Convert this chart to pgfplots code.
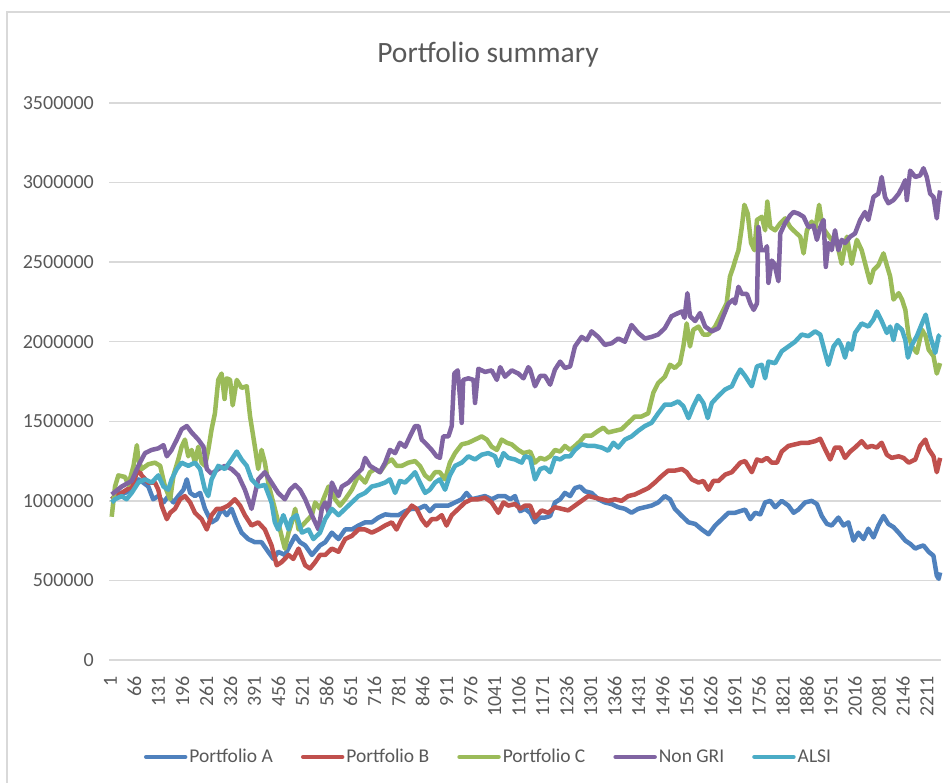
\documentclass[border=0pt]{standalone}
\usepackage{fontspec}
\setmainfont{Carlito}
\usepackage{pgfplots}
\usepackage{pgfplotstable}
\pgfplotsset{compat=1.18}
\definecolor{cA}{HTML}{4F81BD}
\definecolor{cB}{HTML}{C0504D}
\definecolor{cC}{HTML}{9BBB59}
\definecolor{cD}{HTML}{8064A2}
\definecolor{cE}{HTML}{4BACC6}
\definecolor{txt}{HTML}{595959}
\definecolor{gridc}{HTML}{D9D9D9}

\pgfplotstableread{
x y
1 1010000
19 1050000
37 1050000
55 1070000
73 1135000
86 1115000
100 1090000
113 1010000
127 1030000
141 990000
154 1030000
168 990000
181 1030000
195 1070000
204 1135000
213 1050000
226 1030000
240 1050000
253 950000
271 865000
285 885000
298 950000
312 910000
325 950000
339 865000
352 800000
370 760000
388 740000
406 740000
424 680000
438 635000
451 680000
469 660000
483 720000
497 780000
510 740000
524 720000
542 660000
564 720000
578 740000
596 800000
614 760000
632 820000
650 820000
668 845000
686 865000
704 865000
722 895000
740 915000
758 910000
776 910000
794 935000
812 950000
830 950000
848 970000
861 935000
875 970000
893 970000
911 970000
929 990000
947 1010000
960 1050000
974 1010000
992 1020000
1010 1030000
1028 1010000
1046 1030000
1064 1030000
1078 1010000
1091 1030000
1105 935000
1118 950000
1132 925000
1145 865000
1159 895000
1172 895000
1186 905000
1199 990000
1213 1010000
1226 1050000
1240 1030000
1253 1080000
1267 1090000
1280 1060000
1298 1050000
1316 1010000
1334 990000
1352 980000
1370 960000
1388 950000
1406 925000
1424 950000
1442 960000
1460 970000
1478 990000
1496 1030000
1510 1010000
1523 950000
1542 905000
1560 865000
1578 855000
1596 820000
1614 790000
1632 845000
1650 885000
1668 925000
1686 925000
1699 935000
1713 945000
1727 885000
1740 925000
1754 915000
1767 990000
1781 1000000
1794 960000
1812 1000000
1830 970000
1844 925000
1857 945000
1875 990000
1893 1000000
1907 980000
1920 905000
1934 855000
1947 845000
1965 895000
1979 845000
1992 865000
2006 750000
2019 800000
2033 760000
2046 825000
2060 770000
2073 845000
2087 905000
2100 855000
2114 835000
2128 800000
2146 750000
2159 730000
2173 700000
2182 710000
2195 720000
2209 680000
2222 655000
2231 530000
2236 510000
2240 550000
}\tA

\pgfplotstableread{
x y
1 1010000
28 1050000
55 1090000
73 1200000
82 1160000
100 1115000
118 1115000
127 1070000
136 970000
150 885000
159 925000
172 950000
186 1010000
199 1030000
213 990000
226 925000
244 885000
258 820000
271 910000
285 950000
298 950000
316 970000
334 1010000
348 970000
361 910000
379 845000
397 865000
415 820000
433 720000
447 595000
460 615000
479 660000
492 635000
506 700000
524 595000
537 575000
551 615000
564 660000
578 660000
596 700000
614 680000
632 760000
650 780000
668 820000
686 820000
704 800000
722 820000
740 845000
758 865000
771 820000
785 885000
798 925000
812 970000
825 950000
839 885000
852 845000
866 885000
879 885000
893 910000
906 845000
920 910000
938 950000
956 990000
974 1010000
992 1010000
1010 1020000
1028 990000
1046 925000
1060 990000
1073 970000
1091 980000
1105 950000
1118 970000
1132 970000
1145 895000
1163 940000
1181 925000
1199 960000
1217 950000
1235 940000
1253 970000
1271 1000000
1289 1030000
1307 1020000
1325 1010000
1343 1000000
1361 1010000
1379 1000000
1397 1030000
1415 1040000
1433 1060000
1451 1080000
1469 1115000
1487 1155000
1505 1190000
1523 1190000
1542 1200000
1555 1180000
1569 1135000
1587 1115000
1600 1125000
1614 1070000
1627 1125000
1641 1125000
1659 1165000
1677 1180000
1700 1240000
1713 1250000
1731 1180000
1745 1260000
1758 1250000
1772 1270000
1785 1240000
1799 1240000
1812 1310000
1830 1345000
1848 1355000
1866 1365000
1884 1365000
1902 1375000
1916 1390000
1929 1325000
1943 1260000
1956 1335000
1970 1335000
1983 1270000
1997 1310000
2010 1335000
2028 1375000
2042 1335000
2055 1345000
2069 1335000
2082 1365000
2096 1290000
2109 1270000
2128 1280000
2141 1270000
2155 1240000
2173 1260000
2186 1345000
2200 1385000
2209 1325000
2222 1280000
2231 1180000
2240 1270000
}\tB

\pgfplotstableread{
x y
1 900000
10 1090000
19 1160000
37 1150000
46 1100000
60 1220000
69 1350000
73 1260000
82 1200000
100 1230000
118 1240000
132 1220000
145 1090000
159 1010000
168 1160000
181 1260000
190 1340000
199 1385000
208 1280000
217 1320000
226 1240000
235 1340000
244 1240000
253 1220000
262 1320000
271 1450000
280 1550000
289 1760000
298 1800000
306 1640000
312 1770000
321 1760000
328 1600000
339 1760000
352 1710000
366 1720000
375 1530000
388 1340000
397 1200000
406 1320000
415 1240000
424 1115000
433 1030000
442 950000
451 865000
460 780000
469 700000
479 800000
488 865000
497 950000
506 820000
524 865000
542 910000
551 990000
564 950000
573 1010000
587 1090000
605 1010000
618 970000
632 1010000
650 1070000
668 1160000
686 1115000
699 1180000
713 1200000
726 1180000
744 1240000
758 1260000
771 1220000
785 1220000
803 1240000
821 1250000
834 1220000
848 1160000
861 1135000
875 1180000
888 1180000
902 1135000
915 1240000
929 1300000
947 1355000
965 1365000
983 1385000
1001 1405000
1015 1385000
1028 1340000
1042 1320000
1055 1385000
1069 1365000
1082 1355000
1100 1320000
1114 1300000
1132 1310000
1145 1240000
1159 1270000
1172 1260000
1186 1280000
1199 1320000
1213 1310000
1226 1345000
1240 1320000
1253 1345000
1267 1375000
1280 1410000
1298 1410000
1316 1440000
1330 1460000
1343 1430000
1361 1440000
1379 1450000
1397 1490000
1415 1530000
1433 1530000
1451 1550000
1465 1680000
1478 1740000
1496 1780000
1510 1855000
1523 1835000
1537 1865000
1546 1970000
1555 2115000
1564 1970000
1573 2075000
1587 2095000
1600 2045000
1614 2045000
1632 2095000
1650 2180000
1663 2240000
1672 2410000
1681 2470000
1686 2510000
1695 2575000
1704 2720000
1711 2860000
1720 2805000
1729 2620000
1738 2575000
1745 2765000
1758 2785000
1767 2700000
1773 2880000
1781 2720000
1794 2700000
1808 2745000
1821 2775000
1835 2720000
1848 2690000
1862 2660000
1871 2555000
1880 2700000
1893 2755000
1902 2700000
1913 2860000
1922 2720000
1934 2680000
1947 2640000
1961 2620000
1974 2490000
1988 2660000
2001 2490000
2015 2640000
2028 2575000
2042 2450000
2051 2370000
2060 2450000
2073 2480000
2087 2555000
2096 2480000
2105 2410000
2114 2265000
2128 2305000
2137 2265000
2146 2200000
2155 2035000
2164 1970000
2177 1930000
2191 2075000
2201 2035000
2209 1950000
2222 1910000
2231 1800000
2240 1865000
}\tC

\pgfplotstableread{
x y
1 1040000
28 1090000
55 1125000
73 1220000
91 1300000
109 1320000
127 1330000
141 1350000
150 1280000
163 1320000
177 1385000
190 1450000
204 1470000
217 1430000
235 1385000
249 1340000
258 1200000
271 1170000
289 1200000
307 1220000
325 1200000
343 1160000
361 1070000
379 950000
397 1135000
415 1180000
433 1115000
451 1050000
469 1010000
483 1070000
497 1100000
510 1070000
524 1010000
542 910000
560 820000
569 950000
578 990000
587 930000
596 1115000
605 1070000
614 1030000
623 1090000
641 1115000
659 1160000
677 1200000
686 1270000
699 1220000
713 1200000
726 1180000
740 1240000
753 1320000
767 1300000
780 1365000
794 1340000
807 1405000
821 1470000
830 1470000
839 1385000
852 1355000
866 1320000
879 1280000
888 1270000
897 1405000
911 1405000
920 1470000
927 1800000
936 1820000
942 1660000
947 1490000
951 1760000
965 1770000
979 1760000
983 1615000
992 1830000
1010 1810000
1028 1820000
1042 1760000
1051 1840000
1064 1780000
1082 1820000
1100 1800000
1114 1770000
1127 1840000
1132 1825000
1145 1720000
1159 1785000
1172 1785000
1186 1730000
1199 1825000
1213 1875000
1226 1835000
1240 1845000
1253 1970000
1271 2030000
1285 2010000
1298 2065000
1316 2030000
1334 1980000
1352 1990000
1370 2020000
1388 2000000
1406 2105000
1424 2055000
1442 2020000
1460 2030000
1478 2045000
1496 2085000
1514 2160000
1532 2180000
1542 2190000
1549 2150000
1557 2305000
1564 2160000
1578 2130000
1591 2180000
1605 2095000
1623 2065000
1641 2085000
1654 2160000
1668 2240000
1681 2265000
1686 2240000
1695 2345000
1704 2300000
1718 2300000
1727 2240000
1736 2200000
1745 2240000
1749 2720000
1756 2575000
1767 2575000
1772 2600000
1776 2370000
1785 2510000
1792 2490000
1803 2380000
1808 2680000
1821 2745000
1835 2795000
1844 2815000
1857 2805000
1871 2785000
1884 2720000
1898 2730000
1907 2640000
1916 2720000
1925 2765000
1931 2470000
1938 2620000
1947 2575000
1956 2700000
1965 2575000
1974 2640000
1983 2620000
1997 2660000
2010 2680000
2024 2765000
2037 2815000
2046 2765000
2060 2910000
2073 2930000
2082 3035000
2091 2910000
2100 2870000
2114 2890000
2128 2930000
2137 2970000
2146 3015000
2150 2890000
2159 3075000
2173 3035000
2186 3045000
2195 3090000
2204 3035000
2213 2930000
2222 2910000
2231 2775000
2236 2890000
2240 2950000
}\tD

\pgfplotstableread{
x y
1 990000
10 1010000
28 1030000
41 1010000
55 1050000
73 1115000
91 1135000
109 1115000
127 1160000
141 1090000
154 1070000
163 1135000
177 1200000
190 1240000
208 1220000
226 1240000
240 1200000
253 1070000
262 1030000
271 1135000
289 1220000
307 1200000
325 1260000
339 1310000
352 1260000
366 1220000
379 1135000
397 1090000
415 1100000
433 990000
442 865000
451 820000
465 910000
479 820000
487 885000
501 910000
515 800000
533 820000
546 760000
564 800000
578 885000
596 950000
614 910000
632 950000
650 990000
668 1030000
686 1050000
704 1090000
722 1100000
740 1115000
753 1135000
767 1050000
780 1125000
794 1115000
807 1145000
821 1180000
834 1115000
848 1050000
861 1070000
875 1115000
888 1135000
902 1070000
915 1160000
929 1220000
947 1240000
965 1280000
983 1260000
1001 1290000
1019 1300000
1037 1280000
1046 1220000
1060 1300000
1073 1270000
1091 1260000
1109 1240000
1118 1280000
1132 1270000
1145 1135000
1159 1200000
1172 1210000
1186 1180000
1199 1270000
1213 1260000
1226 1280000
1240 1280000
1253 1320000
1271 1355000
1289 1345000
1307 1345000
1325 1335000
1343 1315000
1357 1365000
1370 1335000
1388 1385000
1406 1405000
1424 1440000
1442 1470000
1460 1490000
1478 1550000
1496 1605000
1514 1605000
1532 1625000
1546 1595000
1560 1520000
1573 1595000
1587 1660000
1600 1615000
1612 1520000
1623 1615000
1641 1660000
1659 1700000
1677 1720000
1690 1785000
1700 1825000
1713 1785000
1731 1720000
1745 1845000
1758 1855000
1767 1770000
1776 1875000
1794 1865000
1812 1940000
1830 1970000
1848 2000000
1866 2045000
1884 2035000
1902 2065000
1916 2045000
1929 1930000
1938 1855000
1952 1970000
1965 2010000
1974 1970000
1983 1900000
1992 1990000
2001 1950000
2010 2055000
2028 2115000
2046 2095000
2060 2140000
2069 2190000
2082 2130000
2096 2055000
2105 2095000
2114 2010000
2123 2105000
2137 2075000
2146 2010000
2153 1900000
2164 1980000
2177 2035000
2191 2115000
2201 2170000
2213 2035000
2227 1930000
2236 2035000
2240 2045000
}\tE

\begin{document}
\begin{tikzpicture}
\path[use as bounding box] (0,0) rectangle (950pt,783pt);
\draw[gridc, line width=1.3pt] (7pt,0pt) -- (7pt,771pt) -- (950pt,771pt);
\node[anchor=base, text=txt, font=\fontsize{29.5}{34}\selectfont, inner sep=0pt] at (488pt,720pt) {Portfolio summary};
\begin{axis}[
  at={(109pt,123pt)}, anchor=south west,
  scale only axis, width=832pt, height=557pt,
  xmin=-6.3, xmax=2242.4, ymin=0, ymax=3500000,
  ytick={0,500000,...,3500000},
  xtick={-2.6,62.312,...,2205},
  xticklabels={1,66,131,196,261,326,391,456,521,586,651,716,781,846,911,976,1041,1106,1171,1236,1301,1366,1431,1496,1561,1626,1691,1756,1821,1886,1951,2016,2081,2146,2211},
  scaled y ticks=false,
  yticklabel style={/pgf/number format/fixed, /pgf/number format/1000 sep={}, /pgf/number format/assume math mode=true, anchor=east, inner sep=0pt, xshift=-15pt},
  xticklabel style={yshift=-16pt, rotate=90, anchor=east, inner sep=0pt},
  ticklabel style={font=\fontsize{20}{24}\selectfont, text=txt},
  axis line style={draw=none},
  major tick length=0pt,
  tick style={draw=none},
  ymajorgrids,
  major grid style={gridc, line width=1.3pt},
  clip=false,
  legend style={at={(0.042,-0.1741)}, anchor=west, draw=none, fill=none,
    legend columns=-1, font=\fontsize{19.5}{22}\selectfont, text=txt,
    inner sep=0pt, outer sep=0pt, nodes={inner sep=2pt},
    /tikz/every even column/.append style={column sep=26pt}},
  legend image code/.code={\draw[#1, line width=4.5pt, line cap=round] (2pt,0pt) -- (41pt,0pt);},
  every axis plot/.append style={line width=4.5pt, line join=round, mark=none},
]
\addplot[cA] table {\tA};
\addlegendentry{Portfolio A}
\addplot[cB] table {\tB};
\addlegendentry{Portfolio B}
\addplot[cC] table {\tC};
\addlegendentry{Portfolio C}
\addplot[cD] table {\tD};
\addlegendentry{Non GRI}
\addplot[cE] table {\tE};
\addlegendentry{ALSI}
\end{axis}
\end{tikzpicture}
\end{document}
